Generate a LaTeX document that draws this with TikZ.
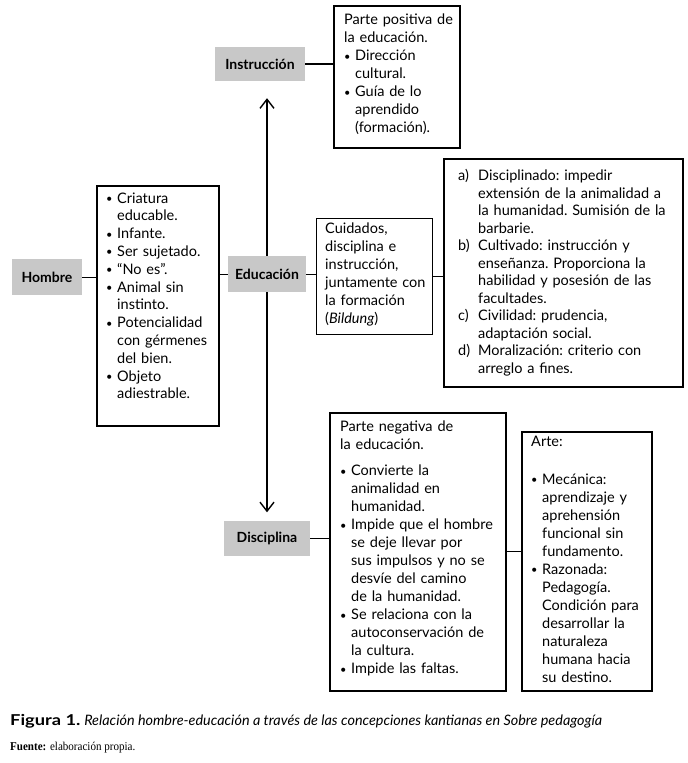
\documentclass[tikz,border=0pt]{standalone}
\usepackage{fontspec}
\usepackage{graphicx}
\setmainfont{Lato}
\newfontfamily\srcfont[FakeStretch=0.92]{Liberation Serif}
\usetikzlibrary{arrows.meta,calc}
\definecolor{lblgray}{RGB}{200,200,200}
\newcommand\bl{\par\hangindent=11pt\hangafter=1\noindent\makebox[11pt][l]{\raisebox{0.6pt}{\fontsize{11}{11}\selectfont\textbullet}}}
\newcommand\lit[1]{\par\hangindent=20pt\hangafter=1\noindent\makebox[20pt][l]{#1}}
\newcommand\nl{\unskip\hfil\break}
\tikzset{
  lbl/.style={fill=lblgray, font=\bfseries\fontsize{14}{16}\selectfont, inner sep=0pt},
  bx/.style={draw, line width=1.6pt, anchor=north west, inner sep=0pt},
  txt/.style={anchor=north west, inner sep=0pt, align=left, font=\fontsize{14.5}{18}\selectfont\frenchspacing},
  con/.style={line width=1pt},
  arr/.style={line width=1.6pt, -{Straight Barb[length=9pt,width=14pt,line width=1.4pt]}, shorten >=17pt}
}
\begin{document}
\begin{tikzpicture}[x=1pt,y=-1pt]
\useasboundingbox[fill=white] (0,0) rectangle (688,763);
% labels
\node[lbl, minimum width=90pt, minimum height=34pt] (instr) at (260,64) {Instrucción};
\node[lbl, minimum width=70pt, minimum height=36pt] (hombre) at (47,277) {Hombre};
\node[lbl, minimum width=78pt, minimum height=36pt] (edu) at (267,274) {Educación};
\node[lbl, minimum width=86pt, minimum height=35pt] (disc) at (267,538) {Disciplina};
% boxes
\node[bx, minimum width=126pt, minimum height=142pt] (pos) at (333,5) {};
\node[bx, minimum width=122pt, minimum height=240pt] (hl) at (96,185) {};
\node[bx, minimum width=116pt, minimum height=116pt, line width=1.3pt] (cui) at (316,218) {};
\node[bx, minimum width=239pt, minimum height=228pt] (big) at (443,158) {};
\node[bx, minimum width=176pt, minimum height=278pt] (neg) at (329,412) {};
\node[bx, minimum width=130pt, minimum height=259pt] (arte) at (521,431) {};
% texts
\node[txt, text width=120pt] (posT) at (344,14) {%
\noindent Parte positiva de\nl la educación.
\bl Dirección\nl cultural.
\bl Guía de lo\nl aprendido\nl (formación).\par};
\node[txt, text width=118pt, font=\fontsize{14.5}{17.8}\selectfont] (hlT) at (106,185) {%
\bl Criatura\nl educable.
\bl Infante.
\bl Ser sujetado.
\bl “No es”.
\bl Animal sin\nl instinto.
\bl Potencialidad\nl con gérmenes\nl del bien.
\bl Objeto\nl adiestrable.\par};
\node[txt, text width=115pt] (cuiT) at (325,223) {%
\noindent Cuidados,\nl disciplina e\nl instrucción,\nl juntamente con\nl la formación\nl (\textit{Bildung})\par};
\node[txt, text width=220pt, font=\fontsize{14.5}{17.5}\selectfont\frenchspacing] (bigT) at (458,163) {%
\lit{a)}Disciplinado: impedir\nl extensión de la animalidad a\nl la humanidad. Sumisión de la\nl barbarie.
\lit{b)}Cultivado: instrucción y\nl enseñanza. Proporciona la\nl habilidad y posesión de las\nl facultades.
\lit{c)}Civilidad: prudencia,\nl adaptación social.
\lit{d)}Moralización: criterio con\nl arreglo a fines.\par};
\node[txt, text width=170pt] (negT) at (340,421) {%
\noindent Parte negativa de\nl la educación.\par\vspace{8pt}
\bl Convierte la\nl animalidad en\nl humanidad.
\bl Impide que el hombre\nl se deje llevar por\nl sus impulsos y no se\nl desvíe del camino\nl de la humanidad.
\bl Se relaciona con la\nl autoconservación de\nl la cultura.
\bl Impide las faltas.\par};
\node[txt, text width=125pt] (arteT) at (531,436) {%
\noindent Arte:\par\vspace{20pt}
\bl Mecánica:\nl aprendizaje y\nl aprehensión\nl funcional sin\nl fundamento.
\bl Razonada:\nl Pedagogía.\nl Condición para\nl desarrollar la\nl naturaleza\nl humana hacia\nl su destino.\par};
% connectors
\draw[con, line width=1.6pt] (instr.east) -- (pos.west |- instr.east);
\draw[con] (hombre.east) -- (hl.west |- hombre.east);
\draw[con] (hl.east |- edu.west) -- (edu.west);
\draw[con] (edu.east) -- (cui.west |- edu.east);
\draw[con] (cui.east) -- (big.west |- cui.east);
\draw[con] (disc.east) -- (neg.west |- disc.east);
\draw[con] (neg.east) -- (arte.west |- neg.east);
\draw[arr] (edu.north) -- (edu.north |- instr.south);
\draw[arr, shorten >=8pt] (edu.south) -- (disc.north);
% caption
\node[anchor=base west, inner sep=0pt, font=\fontsize{14.4}{17}\selectfont] (cap) at (10,725) {\scalebox{1.22}[1]{\fontsize{15}{17}\selectfont\textbf{Figura 1.}} \textit{Relación hombre-educación a través de las concepciones kantianas en Sobre pedagogía}};
\node[anchor=base west, inner sep=0pt, font=\srcfont\fontsize{12}{14}\selectfont] (src) at (10,750) {\textbf{Fuente:} elaboración propia.};
\end{tikzpicture}
\end{document}
